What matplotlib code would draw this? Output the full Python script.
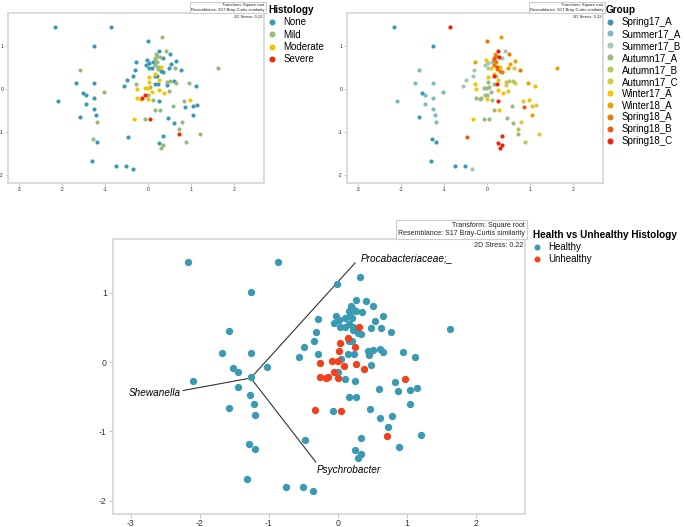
import matplotlib
matplotlib.use('Agg')
from matplotlib import pyplot as plt
from matplotlib.lines import Line2D
import numpy as np

plt.rcParams['font.family'] = ['Liberation Sans', 'DejaVu Sans']
plt.rcParams['axes.unicode_minus'] = False

# nMDS coordinates, one entry per sample
nmds1 = [-2.17, -0.87, -1.26, -1.58, -1.67, -1.26, -2.09, -1.52, -1.45, -1.25,
         -1.02, -1.45, -1.58, -1.27, -1.21, -1.20, -1.29, -1.20, -1.31, -0.75,
         -0.51, -0.36, -0.47, -0.56, -0.49, -0.34, -0.31, -0.28, -0.29, -0.01,
         -0.02, -0.05, 0.02, 0.03, 0.10, 0.11, 0.17, 0.19, 0.21, 0.16,
         0.27, 0.26, 0.41, 0.51, 0.35, 0.21, 0.16, 0.22, 0.22, 0.29,
         0.34, 0.32, 0.66, 0.54, 0.48, 0.63, 0.77, 1.62, 0.31, 0.16,
         0.21, 0.03, 0.15, 0.25, 0.01, 0.24, 0.15, 0.44, 0.51, 0.61,
         0.66, 0.95, 0.45, 1.12, 0.05, -0.08, 0.00, -0.26, 0.26, 0.48,
         0.09, 0.38, -0.06, 0.00, -0.17, -0.14, -0.26, 0.00, 0.11, 0.25,
         0.97, 0.83, 0.59, 0.87, 1.04, 1.14, 0.16, 0.27, -0.33, -0.07,
         0.04, 0.47, 0.61, 0.78, 0.73, 1.05, 0.71, 1.20, 0.34, 0.25,
         0.34, 0.29, 0.88]
nmds2 = [1.45, 1.45, 1.01, 0.45, 0.13, 0.13, -0.27, -0.09, -0.15, -0.22,
         -0.07, -0.36, -0.66, -0.47, -0.61, -0.77, -1.18, -1.25, -1.68, -1.80,
         -1.80, -1.86, -1.12, 0.08, 0.22, 0.31, 0.44, 0.62, 0.12, 1.12,
         0.67, 0.57, 0.60, 0.50, 0.50, 0.63, 0.68, 0.81, 0.78, 0.73,
         0.74, 0.89, 0.88, 0.81, 0.72, 0.63, 0.55, 0.51, 0.46, 0.42,
         0.40, 1.22, 0.66, 0.59, 0.49, 0.49, 0.44, 0.48, 0.51, 0.30,
         0.31, 0.28, 0.35, 0.22, 0.16, 0.12, 0.11, 0.16, 0.18, 0.19,
         0.15, 0.15, 0.10, 0.07, 0.05, 0.02, 0.02, -0.01, -0.03, -0.04,
         -0.06, -0.10, -0.15, -0.14, -0.23, -0.21, -0.22, -0.23, -0.25, -0.27,
         -0.25, -0.29, -0.39, -0.41, -0.40, -0.38, -0.50, -0.50, -0.69, -0.71,
         -0.71, -0.67, -0.80, -0.78, -0.93, -0.60, -1.06, -1.05, -1.09, -1.27,
         -1.32, -1.38, -1.23]
histology = ['None', 'None', 'None', 'Mild', 'None', 'None', 'None', 'None', 'None', 'None',
             'Mild', 'None', 'None', 'None', 'None', 'Mild', 'Mild', 'None', 'None', 'None',
             'None', 'None', 'None', 'None', 'None', 'None', 'None', 'None', 'Mild', 'None',
             'None', 'None', 'None', 'None', 'None', 'None', 'Mild', 'Mild', 'Mild', 'Mild',
             'Mild', 'None', 'Mild', 'None', 'None', 'Mild', 'Mild', 'Mild', 'Mild', 'None',
             'None', 'Mild', 'None', 'None', 'None', 'Mild', 'None', 'Mild', 'Moderate', 'None',
             'None', 'Moderate', 'Moderate', 'Moderate', 'Moderate', 'None', 'None', 'Mild', 'Mild', 'None',
             'Mild', 'Mild', 'None', 'None', 'Mild', 'Moderate', 'Moderate', 'Moderate', 'Moderate', 'Mild',
             'Moderate', 'Moderate', 'Severe', 'Mild', 'Moderate', 'Severe', 'Moderate', 'Moderate', 'Mild', 'None',
             'Moderate', 'Mild', 'Mild', 'None', 'None', 'None', 'Mild', 'Mild', 'Moderate', 'Mild',
             'Severe', 'None', 'None', 'Mild', 'Mild', 'None', 'Severe', 'Mild', 'None', 'None',
             'Mild', 'Mild', 'Mild']
group = ['Spring17_A', 'Spring18_C', 'Spring17_A', 'Summer17_A', 'Summer17_A', 'Summer17_A', 'Summer17_A', 'Spring17_A', 'Summer17_A', 'Summer17_A',
         'Summer17_A', 'Summer17_A', 'Spring17_A', 'Summer17_A', 'Summer17_A', 'Summer17_A', 'Spring17_A', 'Spring17_A', 'Spring17_A', 'Spring17_A',
         'Spring17_A', 'Summer17_B', 'Spring18_B', 'Summer17_B', 'Summer17_B', 'Summer17_B', 'Summer17_B', 'Winter18_A', 'Winter17_A', 'Spring18_A',
         'Winter17_A', 'Summer17_B', 'Summer17_B', 'Summer17_B', 'Winter17_A', 'Summer17_B', 'Spring18_A', 'Winter18_A', 'Spring18_A', 'Spring18_B',
         'Spring18_C', 'Spring18_C', 'Summer17_B', 'Spring18_A', 'Summer17_B', 'Spring18_A', 'Spring18_A', 'Spring18_B', 'Spring18_A', 'Spring18_A',
         'Spring18_A', 'Winter18_A', 'Winter18_A', 'Winter18_A', 'Winter18_A', 'Autumn17_C', 'Spring18_A', 'Winter18_A', 'Winter17_A', 'Spring18_C',
         'Summer17_B', 'Winter17_A', 'Winter17_A', 'Winter17_A', 'Autumn17_A', 'Spring18_C', 'Autumn17_A', 'Autumn17_B', 'Autumn17_B', 'Autumn17_B',
         'Autumn17_C', 'Winter18_A', 'Autumn17_C', 'Winter17_A', 'Autumn17_A', 'Autumn17_A', 'Autumn17_A', 'Winter17_A', 'Winter17_A', 'Autumn17_C',
         'Autumn17_A', 'Winter17_A', 'Autumn17_A', 'Autumn17_A', 'Autumn17_A', 'Autumn17_A', 'Autumn17_A', 'Winter17_A', 'Autumn17_A', 'Spring18_C',
         'Winter17_A', 'Autumn17_C', 'Autumn17_A', 'Spring18_B', 'Autumn17_C', 'Autumn17_C', 'Autumn17_A', 'Winter17_A', 'Winter17_A', 'Autumn17_A',
         'Autumn17_A', 'Autumn17_A', 'Autumn17_A', 'Autumn17_C', 'Autumn17_B', 'Winter18_A', 'Autumn17_A', 'Autumn17_C', 'Spring18_C', 'Spring18_C',
         'Spring18_C', 'Spring18_C', 'Autumn17_B']

hist_levels = ['None', 'Mild', 'Moderate', 'Severe']
hist_colors = ['#3b9ab2', '#98ba7c', '#f2c500', '#f2280a']
group_levels = ['Spring17_A', 'Summer17_A', 'Summer17_B', 'Autumn17_A', 'Autumn17_B',
                'Autumn17_C', 'Winter17_A', 'Winter18_A', 'Spring18_A', 'Spring18_B', 'Spring18_C']
group_colors = ['#3b9ab2', '#7dbac2', '#a6c6b2', '#9bba7e', '#bcc462', '#dcc63c',
                '#f5c400', '#e8a200', '#e87c00', '#ee5a0a', '#f2200a']
health_levels = ['Healthy', 'Unhealthy']
health_colors = ['#3b9ab2', '#f2401c']
health = ['Healthy' if h in ('None', 'Mild') else 'Unhealthy' for h in histology]

# biplot vectors (start, end, label)
vec_origin = (-1.26, -0.23)
vec_ends = [(0.25, 1.43), (-2.24, -0.41), (-0.32, -1.44)]
vec_labels = ['Procabacteriaceae;_', 'Shewanella', 'Psychrobacter']

x = np.array(nmds1)
y = np.array(nmds2)

fig = plt.figure(figsize=(6.85, 5.27), dpi=100)


def panel(rect, cats, levels, colors, size, tick_fs, note_fs):
    ax = fig.add_axes(rect)
    cats = np.array(cats)
    for lev, col in zip(levels, colors):
        m = cats == lev
        ax.scatter(x[m], y[m], s=size, color=col, linewidths=0, label=lev, zorder=3)
    ax.set_xlim(-3.26, 2.71)
    ax.set_ylim(-2.19, 1.77)
    ax.set_xticks([-3, -2, -1, 0, 1, 2])
    ax.set_yticks([-2, -1, 0, 1])
    ax.tick_params(labelsize=tick_fs, colors='#bbbbbb', labelcolor='#333333',
                   length=2, width=0.6, pad=1.2)
    for s in ax.spines.values():
        s.set_color('#d6d6d6')
        s.set_linewidth(1.2)
    ax.text(0.995, 0.99, '2D Stress: 0.22', transform=ax.transAxes, ha='right', va='top',
            fontsize=note_fs, color='#222222')
    ax.text(1.0, 1.008, 'Transform: Square root\nResemblance: S17 Bray-Curtis similarity',
            transform=ax.transAxes, ha='right', va='bottom', fontsize=note_fs,
            color='#222222', linespacing=1.15,
            bbox=dict(boxstyle='square,pad=0.3', fc='white', ec='#cccccc', lw=0.8))
    return ax


def add_legend(ax, title, levels, colors, anchor, pitch):
    handles = [Line2D([], [], marker='o', ls='', color=c, markersize=3.3) for c in colors]
    leg = ax.legend(handles, levels, title=title, loc='upper left',
                    bbox_to_anchor=anchor, bbox_transform=fig.transFigure,
                    frameon=False, fontsize=7, borderpad=0, borderaxespad=0,
                    handlelength=0.8, handletextpad=0.8, labelspacing=pitch,
                    alignment='left',
                    title_fontproperties={'weight': 'bold', 'size': 7.2})
    return leg


ax1 = panel([0.0121, 0.6533, 0.3737, 0.3215], histology, hist_levels, hist_colors, 9, 3.8, 3)
add_legend(ax1, 'Histology', hist_levels, hist_colors, (268 / 685, 1 - 5 / 527), 0.24)

ax2 = panel([0.507, 0.6533, 0.3737, 0.3215], group, group_levels, group_colors, 9, 3.8, 3)
add_legend(ax2, 'Group', group_levels, group_colors, (606 / 685, 1 - 5 / 527), 0.2)

ax3 = panel([0.1645, 0.0247, 0.6019, 0.5212], health, health_levels, health_colors, 28, 6.3, 5)
ax3.tick_params(length=3)
ax3.tick_params(axis='x', pad=0.3)
for (ex, ey), lab in zip(vec_ends, vec_labels):
    ax3.plot([vec_origin[0], ex], [vec_origin[1], ey], color='#333333', lw=0.8, zorder=2)
ax3.text(0.33, 1.50, vec_labels[0], style='italic', fontsize=7.2, ha='left', va='center')
ax3.text(-2.28, -0.44, vec_labels[1], style='italic', fontsize=7.2, ha='right', va='center')
ax3.text(-0.31, -1.56, vec_labels[2], style='italic', fontsize=7.2, ha='left', va='center')
add_legend(ax3, 'Health vs Unhealthy Histology', health_levels, health_colors,
           (533 / 685, 1 - 230 / 527), 0.22)

fig.savefig('out.png', dpi=100)
